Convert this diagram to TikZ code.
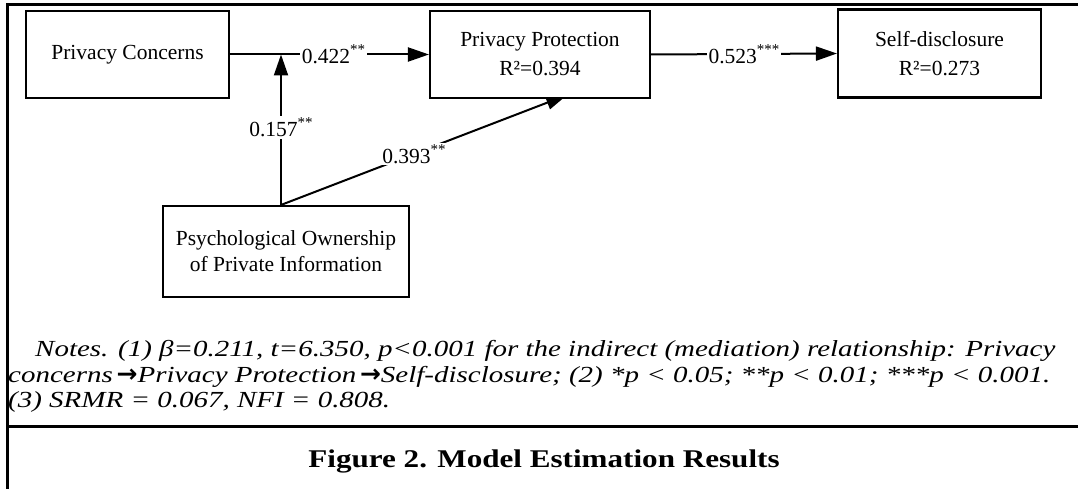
\documentclass[tikz,border=0pt]{standalone}
\usepackage{fontspec}
\setmainfont{Liberation Serif}
\newfontfamily\boxfont{Liberation Serif}
\newfontfamily\notefont{Liberation Serif}[FakeStretch=1.26]
\newfontfamily\capfont{Liberation Serif}[FakeStretch=1.22]
\newfontfamily\arrowfont{DejaVu Sans}
\usetikzlibrary{arrows.meta,backgrounds,calc}
\tikzset{
  box/.style={draw=black,line width=2.1pt,fill=white,rectangle,align=center,
    inner sep=0pt,font=\boxfont\fontsize{21.5}{29}\selectfont},
  conn/.style={line width=2pt,-{Triangle[length=21pt,width=14pt]}},
  lab/.style={fill=white,inner sep=1.5pt,font=\boxfont\fontsize{21.5}{24}\selectfont},
  frame/.style={line width=3pt},
  note/.style={anchor=base west,inner sep=0pt,font=\notefont\itshape\fontsize{23}{25}\selectfont},
}
\newcommand{\nar}{{\arrowfont\upshape\bfseries\fontsize{25}{25}\selectfont →}}
\newcommand{\sig}[1]{\raisebox{0.42em}{\fontsize{15}{15}\selectfont #1}}
\begin{document}
\begin{tikzpicture}[x=1pt,y=-1pt]
\useasboundingbox (0,0) rectangle (1078,489);
% frame
\draw[frame] (7.5,489) -- (7.5,5) -- (1078,5);
\draw[frame] (7.5,426) -- (1078,426);
% boxes
\node[box,minimum width=203pt,minimum height=87pt] (pc) at (127.5,54.5) {Privacy Concerns};
\node[box,minimum width=220pt,minimum height=87pt] (pp) at (540,54.5) {Privacy Protection\\R²=0.394};
\node[box,minimum width=203pt,minimum height=88pt] (sd) at (939.5,53.5) {Self-disclosure\\R²=0.273};
\node[box,minimum width=246pt,minimum height=91pt,font=\boxfont\fontsize{21.5}{26}\selectfont] (po) at (286,251.5) {Psychological Ownership\\of Private Information};
\coordinate (ps) at ($(po.north)+(-5,0)$);
\coordinate (m) at (ps |- pc.east);
\coordinate (pt) at ($(pp.south)+(27,-4)$);
\begin{scope}[on background layer]
\draw[conn] (pc.east) -- node[lab,pos=0.52]{0.422\sig{**}} (pp.west);
\draw[conn] (pp.east) -- node[lab,pos=0.5]{0.523\sig{***}} (sd.west);
\draw[conn] (ps) -- node[lab,pos=0.515]{0.157\sig{**}} (m);
\draw[conn] (ps) -- node[lab,pos=0.465]{0.393\sig{**}} (pt);
\end{scope}
% notes
\node[note] (n1) at (35,356) {Notes. (1) β=0.211, t=6.350, p<0.001 for the indirect (mediation) relationship: Privacy};
\node[note] (n2) at (8,382) {concerns\,\nar Privacy Protection\,\nar Self-disclosure; (2) *p < 0.05; **p < 0.01; ***p < 0.001.};
\node[note] (n3) at (8,407) {(3) SRMR = 0.067, NFI = 0.808.};
% caption
\node[font=\capfont\bfseries\fontsize{25.5}{30}\selectfont,anchor=base] (cap) at (544,467) {Figure 2. Model Estimation Results};
\end{tikzpicture}
\end{document}
